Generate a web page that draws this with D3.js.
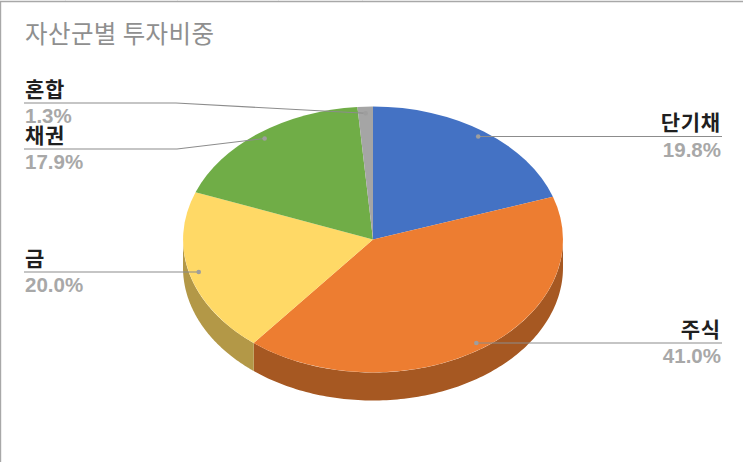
<!DOCTYPE html>
<html><head><meta charset="utf-8">
<script src="https://cdn.jsdelivr.net/npm/d3@7"></script>
<style>html,body{margin:0;padding:0;background:#fff;overflow:hidden}svg{display:block}</style>
</head><body><svg id="c" width="743" height="462"></svg>
<script>
const titleText = "자산군별 투자비중";
const categories = ["단기채","주식","금","채권","혼합"];
const values = [19.8,41.0,20.0,17.9,1.3];
const valueLabels = ["19.8%","41.0%","20.0%","17.9%","1.3%"];
const colors = ["#4472c4","#ed7d31","#ffd966","#70ad47","#a5a5a5"];

const W=743,H=462,cx=373,cy=239.5,rx=190,ry=133,depth=28;
const svg=d3.select("#c");
svg.append("rect").attr("width",W).attr("height",H).attr("fill","#fff");
svg.append("path").attr("d",`M0.5,${H}V1.5H${W}`).attr("fill","none").attr("stroke","#a8a8a8").attr("stroke-width",1.4);
const ticksTop=[65,177,278,362];
svg.selectAll(".t").data(ticksTop).join("line").attr("x1",d=>d+.5).attr("x2",d=>d+.5).attr("y1",0).attr("y2",1).attr("stroke","#ddd");

svg.append("text").attr("x",25).attr("y",43).text(titleText)
 .attr("font-family","'Noto Sans CJK KR'").attr("font-size",24.5).attr("letter-spacing",0.4).attr("fill","#8f8f8f");

const pie=d3.pie().sort(null).value(d=>d);
const arcs=pie(values);
const px=(t,f=1)=>cx+rx*f*Math.sin(t), py=(t,f=1)=>cy-ry*f*Math.cos(t);

// side wall: only the front half of the ellipse (90° to 270°)
const lo=Math.PI/2, hi=3*Math.PI/2;
const line=d3.line();
arcs.forEach((a,i)=>{
  const s=Math.max(a.startAngle,lo), e=Math.min(a.endAngle,hi);
  if(e<=s) return;
  const ts=d3.range(0,121).map(k=>s+(e-s)*k/120);
  const pts=ts.map(t=>[px(t),py(t)]).concat(ts.slice().reverse().map(t=>[px(t),py(t)+depth]));
  const c=d3.rgb(colors[i]);
  svg.append("path").attr("d",line(pts)+"Z")
    .attr("fill",d3.rgb(c.r*.7,c.g*.7,c.b*.7).formatHex());
});

// top face: unit arc scaled to the ellipse
const arc=d3.arc().innerRadius(0).outerRadius(1);
svg.append("g").attr("transform",`translate(${cx},${cy}) scale(${rx},${ry})`)
  .selectAll("path").data(arcs).join("path")
  .attr("d",arc).attr("fill",(d,i)=>colors[i]);

// leader lines and labels
const anchorF=0.95;
const placement=[
 {side:"r",y:136.5},
 {side:"r",y:343},
 {side:"l",y:272},
 {side:"l",y:149,elbow:177},
 {side:"l",y:103,elbow:176}
];
const lg=svg.append("g");
arcs.forEach((a,i)=>{
  const m=(a.startAngle+a.endAngle)/2, ax=px(m,anchorF), ay=py(m,anchorF), p=placement[i];
  const endX=p.side==="r"?722:24;
  const pts=p.elbow?[[ax,ay],[p.elbow,p.y],[endX,p.y]]:[[ax,p.y],[endX,p.y]];
  lg.append("path").attr("d",line(pts)).attr("fill","none").attr("stroke","#8c8c8c").attr("stroke-width",1.1);
  lg.append("circle").attr("cx",ax).attr("cy",p.elbow?ay:p.y).attr("r",2.3).attr("fill","#9e9e9e");
  const tx=p.side==="r"?721:25, anchor=p.side==="r"?"end":"start";
  lg.append("text").attr("x",tx).attr("y",p.y-6.5).attr("text-anchor",anchor).attr("letter-spacing",0.8).text(categories[i])
    .attr("font-family","'Noto Sans CJK KR'").attr("font-weight",700).attr("font-size",21).attr("fill","#1f1f1f");
  lg.append("text").attr("x",tx).attr("y",p.y+20).attr("text-anchor",anchor).text(valueLabels[i])
    .attr("font-family","'Liberation Sans'").attr("font-weight",700).attr("font-size",20.5).attr("fill","#a8a8a8");
});
</script></body></html>
